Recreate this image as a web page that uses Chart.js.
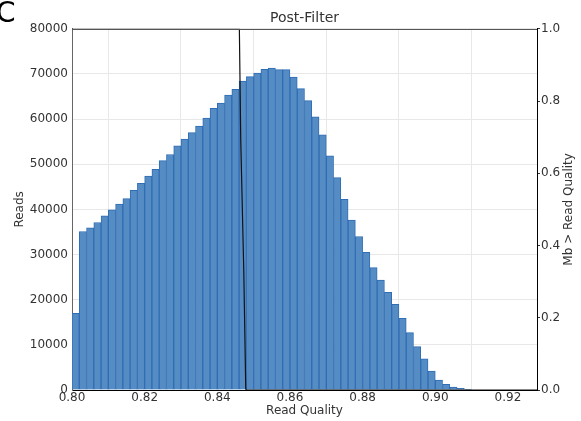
<!DOCTYPE html>
<html>
<head>
<meta charset="utf-8">
<script src="https://cdn.jsdelivr.net/npm/chart.js@4/dist/chart.umd.min.js"></script>
<style>
  html, body { margin: 0; padding: 0; background: #fff; }
  #wrap { width: 581px; height: 421px; }
</style>
</head>
<body>
<div id="wrap"><canvas id="histCanvas" width="581" height="421"></canvas></div>
<script>
// histogram bins (read quality), width 0.002 starting at 0.80
const binStart = 0.80;
const binWidth = 0.002;
const readCounts = [
  17000, 35100, 35900, 37100, 38600, 39900, 41200, 42400, 44200, 45800,
  47400, 48900, 50800, 52150, 54100, 55550, 57000, 58450, 60200, 62400,
  63550, 65300, 66600, 68400, 69400, 70200, 71050, 71300, 70950, 70950,
  69300, 66750, 64100, 60500, 56500, 51850, 47050, 42250, 37650, 34000,
  30500, 27100, 24350, 21650, 19000, 15900, 12700, 9600, 6900, 4200,
  2200, 1250, 650, 350, 150
];

// "Mb > Read Quality" curve (right axis)
const curveQuality = [0.80, 0.84607, 0.84645, 0.84728, 0.84783, 0.848, 0.928];
const curveFraction = [1.0, 1.0, 0.6925, 0.3324, 0.003, 0.0, 0.0];

// tick labels
const xTicks = [0.80, 0.82, 0.84, 0.86, 0.88, 0.90, 0.92];
const yTicks = [0, 10000, 20000, 30000, 40000, 50000, 60000, 70000, 80000];
const y2Ticks = [0.0, 0.2, 0.4, 0.6, 0.8, 1.0];

const binCenters = readCounts.map((_, i) => +(binStart + binWidth * (i + 0.5)).toFixed(4));

const font = "'DejaVu Sans', sans-serif";
const textColor = "#333";
const gridColor = "#e8e8e8";

const framePlugin = {
  id: "frame",
  afterDraw(chart) {
    const ctx = chart.ctx;
    const a = chart.chartArea;
    ctx.save();
    // top edge of the plot box
    ctx.strokeStyle = "#555";
    ctx.lineWidth = 1;
    ctx.beginPath();
    ctx.moveTo(a.left, Math.round(a.top) + 0.5);
    ctx.lineTo(a.right, Math.round(a.top) + 0.5);
    ctx.stroke();
    // right axis title, reading bottom to top
    ctx.fillStyle = textColor;
    ctx.font = "12px " + font;
    ctx.textAlign = "center";
    ctx.textBaseline = "middle";
    ctx.translate(569, (a.top + a.bottom) / 2);
    ctx.rotate(-Math.PI / 2);
    ctx.fillText("Mb > Read Quality", 0, 0);
    ctx.restore();
    // panel letter
    ctx.save();
    ctx.fillStyle = "#000";
    ctx.font = "28px " + font;
    ctx.textBaseline = "alphabetic";
    ctx.fillText("C", -4, 22);
    ctx.restore();
  }
};

new Chart(document.getElementById("histCanvas"), {
  type: "bar",
  data: {
    datasets: [
      {
        type: "line",
        data: curveQuality.map((q, i) => ({ x: q, y: curveFraction[i] })),
        yAxisID: "y2",
        borderColor: "#111",
        borderWidth: 1.2,
        pointRadius: 0,
        tension: 0,
        order: 0
      },
      {
        type: "bar",
        data: binCenters.map((c, i) => ({ x: c, y: readCounts[i] })),
        yAxisID: "y",
        backgroundColor: "#568cc4",
        borderColor: "#2f6db4",
        borderWidth: 1,
        barPercentage: 1,
        categoryPercentage: 1,
        grouped: false,
        order: 1
      }
    ]
  },
  options: {
    responsive: false,
    animation: false,
    devicePixelRatio: 1,
    layout: { padding: 0 },
    plugins: {
      legend: { display: false },
      tooltip: { enabled: false },
      title: {
        display: true,
        text: "Post-Filter",
        fullSize: false,
        color: textColor,
        font: { family: font, size: 14, weight: "normal", lineHeight: 1.2 },
        padding: { top: 10, bottom: 2 }
      }
    },
    scales: {
      x: {
        type: "linear",
        min: 0.80,
        max: 0.928,
        offset: false,
        afterBuildTicks: (s) => { s.ticks = xTicks.map(v => ({ value: v })); },
        afterFit: (s) => { s.height = 31; },
        ticks: {
          color: textColor,
          font: { family: font, size: 12 },
          padding: 1,
          maxRotation: 0,
          callback: (v) => Number(v).toFixed(2)
        },
        grid: { color: gridColor, drawTicks: false },
        border: { color: "#000", width: 1 },
        title: {
          display: true,
          text: "Read Quality",
          color: textColor,
          font: { family: font, size: 12, lineHeight: 1.2 },
          padding: { top: 0, bottom: 3 }
        }
      },
      y: {
        position: "left",
        min: 0,
        max: 80000,
        afterBuildTicks: (s) => { s.ticks = yTicks.map(v => ({ value: v })); },
        afterFit: (s) => { s.width = 72; },
        ticks: {
          color: textColor,
          font: { family: font, size: 12 },
          padding: 4,
          callback: (v) => String(v)
        },
        grid: { color: gridColor, drawTicks: false },
        border: { color: "#666", width: 1 },
        title: {
          display: true,
          text: "Reads",
          color: textColor,
          font: { family: font, size: 12, lineHeight: 1.2 },
          padding: { top: 13, bottom: 0 }
        }
      },
      y2: {
        position: "right",
        min: 0,
        max: 1,
        afterBuildTicks: (s) => { s.ticks = y2Ticks.map(v => ({ value: v })); },
        afterFit: (s) => { s.width = 44; },
        ticks: {
          color: textColor,
          font: { family: font, size: 12 },
          padding: 1,
          callback: (v) => Number(v).toFixed(1)
        },
        grid: { drawOnChartArea: false, drawTicks: true, tickLength: 3, tickColor: "#333" },
        border: { color: "#000", width: 1 },
        title: { display: false }
      }
    }
  },
  plugins: [framePlugin]
});
</script>
</body>
</html>
